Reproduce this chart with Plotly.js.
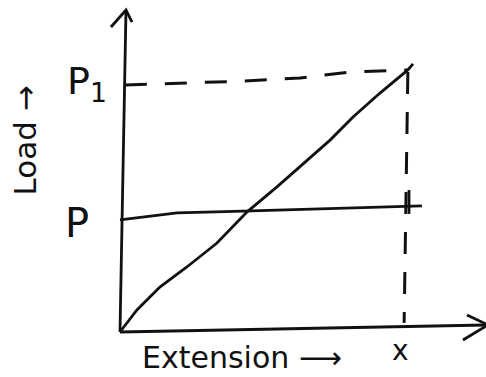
<!DOCTYPE html>
<html>
<head>
<meta charset="utf-8">
<script src="https://cdn.plot.ly/plotly-3.0.1.min.js"></script>
<style>html,body{margin:0;padding:0;background:#fff;}#chart{width:486px;height:377px;}</style>
</head>
<body>
<div id="chart"></div>
<script>
// Load–extension sketch: extension X reached at load P1 (rising line),
// and the constant load P held over the same extension.
// Units: extension X = 10, load P1 = 10.

// Rising load–extension line (load grows from 0 to P1)
const extRising  = [0, 0.59, 1.39, 2.33, 3.38, 4.43, 5.47, 6.62, 7.32, 8.12, 9.06, 10.03, 10.21];
const loadRising = [0, 0.85, 1.73, 2.50, 3.42, 4.62, 5.58, 6.69, 7.38, 8.27, 9.19, 10.08, 10.31];

// Constant load P line
const extConst  = [0, 1.99, 4.29, 6.62, 10.52];
const loadConst = [4.31, 4.58, 4.65, 4.73, 4.85];

// Guide from P1 on the load axis to the end point
const extP1Guide  = [0.17, 4.32, 6.27, 8.01, 10.03];
const loadP1Guide = [9.50, 9.65, 9.77, 10.00, 10.08];

// Guide from the end point down to X on the extension axis
const extXGuide  = [10.03, 9.90];
const loadXGuide = [10.00, 0.35];

// Small mark where the P line meets the X guide
const extMark  = [10.07, 10.07];
const loadMark = [5.46, 4.54];

// Hand-drawn axes with arrowheads
const loadAxisX = [0, 0.174, 0.209];
const loadAxisY = [0, 10.46, 12.385];
const loadArrowX = [-0.314, 0.209, 0.418];
const loadArrowY = [11.73, 12.385, 11.92];
const extAxisX = [0, 7.42, 12.09, 12.82];
const extAxisY = [0, 0.154, 0.269, 0.27];
const extArrowX = [12.09, 12.82, 11.95];
const extArrowY = [0.654, 0.27, -0.31];

// Labels
const labelText = ['P<sub>1</sub>', 'P', 'Load →', 'Extension ⟶', 'x'];
const labelX = [-1.15, -1.50, -3.30, 4.25, 9.76];
const labelY = [9.55, 4.20, 7.38, -1.00, -0.72];

const ink = '#111111';
const solid = {color: ink, width: 2.8};
const dashed = {color: ink, width: 3, dash: '22px,18px'};

function trace(x, y, line) {
  return {x: x, y: y, mode: 'lines', line: line, hoverinfo: 'skip', showlegend: false};
}

const data = [
  trace(loadAxisX, loadAxisY, {color: ink, width: 2.8}),
  trace(loadArrowX, loadArrowY, {color: ink, width: 2.8}),
  trace(extAxisX, extAxisY, {color: ink, width: 2.8}),
  trace(extArrowX, extArrowY, {color: ink, width: 2.8}),
  trace(extRising, loadRising, solid),
  trace(extConst, loadConst, solid),
  trace(extP1Guide, loadP1Guide, dashed),
  trace(extXGuide, loadXGuide, dashed),
  trace(extMark, loadMark, {color: ink, width: 2.8})
];

const fontFace = 'DejaVu Sans, Liberation Sans, sans-serif';
const labelSizes = [38, 40, 31, 30, 28];
const labelAngles = [0, 0, -90, 0, 0];
const annotations = labelText.map((t, i) => ({
  x: labelX[i], y: labelY[i], xref: 'x', yref: 'y',
  text: t, showarrow: false, textangle: labelAngles[i],
  font: {family: fontFace, size: labelSizes[i], color: ink}
}));

const layout = {
  width: 486, height: 377,
  margin: {l: 0, r: 0, t: 0, b: 0},
  paper_bgcolor: '#ffffff', plot_bgcolor: '#ffffff',
  xaxis: {range: [-4.181, 12.753], visible: false, fixedrange: true},
  yaxis: {range: [-1.731, 12.769], visible: false, fixedrange: true},
  annotations: annotations,
  showlegend: false
};

Plotly.newPlot('chart', data, layout, {staticPlot: true, displayModeBar: false});
</script>
</body>
</html>
